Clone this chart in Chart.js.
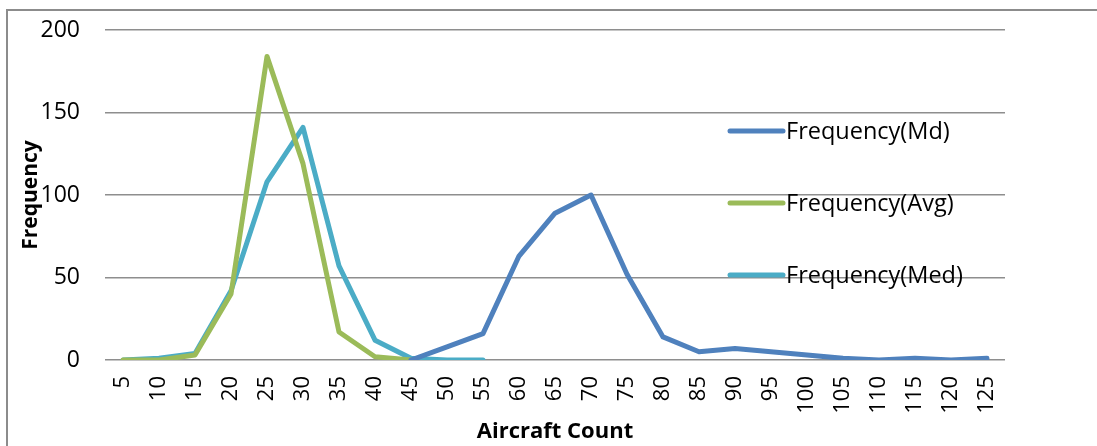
<!DOCTYPE html>
<html>
<head>
<meta charset="utf-8">
<script src="https://cdn.jsdelivr.net/npm/chart.js@4"></script>
<style>
  html, body { margin: 0; padding: 0; background: #fff; }
  #wrap { position: relative; width: 1097px; height: 446px; }
</style>
</head>
<body>
<div id="wrap"><canvas id="freqChart" width="1097" height="446"></canvas></div>
<script>
// --- data ---
const aircraftCount = ['5','10','15','20','25','30','35','40','45','50','55','60','65','70','75','80','85','90','95','100','105','110','115','120','125'];
const freqMd  = [null, null, null, null, null, null, null, null, 0, 8, 16, 63, 89, 100, 52, 14, 5, 7, 5, 3, 1, 0, 1, 0, 1];
const freqAvg = [0, 0, 3, 40, 184, 119, 17, 2, 0, null, null, null, null, null, null, null, null, null, null, null, null, null, null, null, null];
const freqMed = [0, 1, 4, 42, 108, 141, 57, 12, 1, 0, 0, null, null, null, null, null, null, null, null, null, null, null, null, null, null];
const yTicks = [0, 50, 100, 150, 200];
// ---

const FONT = "'Open Sans', 'Liberation Sans', sans-serif";

// 外枠 (上と左だけ見えている)
const framePlugin = {
    id: 'frame',
    beforeDraw(chart) {
        const ctx = chart.ctx;
        ctx.save();
        ctx.strokeStyle = '#8c8c8c';
        ctx.lineWidth = 2;
        ctx.beginPath();
        ctx.moveTo(7, 446);
        ctx.lineTo(7, 10);
        ctx.lineTo(1097, 10);
        ctx.stroke();
        ctx.restore();
    }
};

// 凡例 (プロット内の右側に縦並び)
const inlineLegend = {
    id: 'inlineLegend',
    afterDatasetsDraw(chart) {
        const ctx = chart.ctx;
        ctx.save();
        chart.data.datasets.forEach((ds, i) => {
            const y = 131 + i * 72;
            ctx.strokeStyle = ds.borderColor;
            ctx.lineWidth = 5;
            ctx.lineCap = 'round';
            ctx.beginPath();
            ctx.moveTo(730, y);
            ctx.lineTo(783, y);
            ctx.stroke();
            ctx.fillStyle = '#000';
            ctx.font = '23.5px ' + FONT;
            ctx.textBaseline = 'middle';
            ctx.fillText(ds.label, 786, y + 1);
        });
        ctx.restore();
    }
};

function lineSet(label, data, color) {
    return {
        label: label,
        data: data,
        borderColor: color,
        backgroundColor: color,
        borderWidth: 5,
        borderCapStyle: 'round',
        borderJoinStyle: 'round',
        pointRadius: 0,
        tension: 0,
        spanGaps: false
    };
}

new Chart(document.getElementById('freqChart'), {
    type: 'line',
    data: {
        labels: aircraftCount,
        datasets: [
            lineSet('Frequency(Md)', freqMd, '#4f81bd'),
            lineSet('Frequency(Avg)', freqAvg, '#9bbb59'),
            lineSet('Frequency(Med)', freqMed, '#4bacc6')
        ]
    },
    options: {
        responsive: false,
        animation: false,
        layout: { padding: { top: 30, right: 92, left: 0, bottom: 0 } },
        plugins: {
            legend: { display: false },
            tooltip: { enabled: false }
        },
        scales: {
            x: {
                offset: true,
                grid: { display: false, drawTicks: false },
                border: { display: false },
                ticks: {
                    color: '#000',
                    font: { family: FONT, size: 22 },
                    minRotation: 90,
                    maxRotation: 90,
                    padding: 16,
                    autoSkip: false
                },
                title: {
                    display: true,
                    text: 'Aircraft Count',
                    color: '#000',
                    font: { family: FONT, size: 22, weight: 'bold' },
                    padding: { top: 0, bottom: 1 }
                },
                afterFit(scale) {
                    scale.height = 86;
                    scale.paddingLeft = 0;
                    scale.paddingRight = 0;
                }
            },
            y: {
                min: 0,
                max: 200,
                afterBuildTicks(scale) { scale.ticks = yTicks.map(v => ({ value: v })); },
                grid: { color: '#8e8e8e', lineWidth: 1.5, drawTicks: false },
                border: { display: false },
                ticks: {
                    color: '#000',
                    font: { family: FONT, size: 23 },
                    padding: 25
                },
                title: {
                    display: true,
                    text: 'Frequency',
                    color: '#000',
                    font: { family: FONT, size: 21, weight: 'bold' },
                    padding: { top: 18, bottom: 0 }
                },
                afterFit(scale) {
                    scale.width = 105;
                    scale.paddingTop = 0;
                    scale.paddingBottom = 0;
                }
            }
        }
    },
    plugins: [framePlugin, inlineLegend]
});
</script>
</body>
</html>
